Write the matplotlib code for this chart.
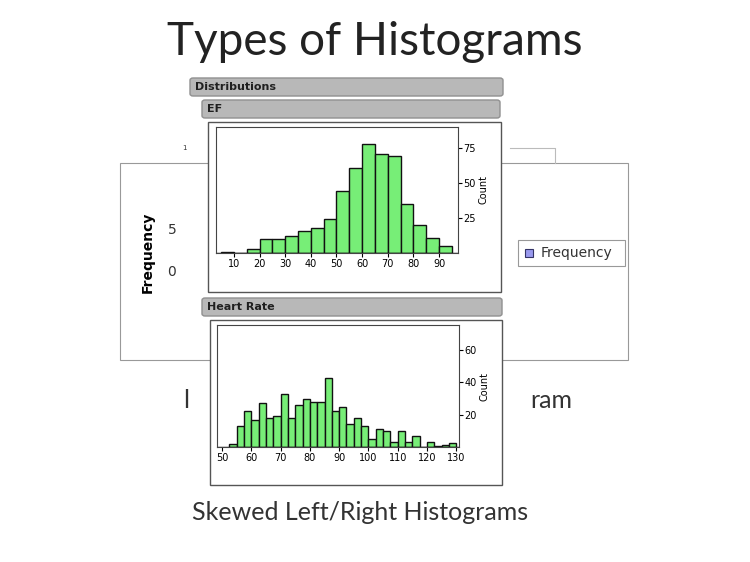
import matplotlib.pyplot as plt
from matplotlib.patches import Rectangle, FancyBboxPatch

W, H = 750, 562

# EF histogram (bin width 5)
ef_edges = [5, 10, 15, 20, 25, 30, 35, 40, 45, 50, 55, 60, 65, 70, 75, 80, 85, 90]
ef_counts = [1, 0, 3, 10, 10, 12, 16, 18, 24, 44, 61, 78, 71, 69, 35, 20, 11, 5]

# Heart rate histogram (bin width 2.5)
hr_edges = [52.5, 55, 57.5, 60, 62.5, 65, 67.5, 70, 72.5, 75, 77.5, 80, 82.5, 85, 87.5,
            90, 92.5, 95, 97.5, 100, 102.5, 105, 107.5, 110, 112.5, 115, 117.5, 120,
            122.5, 125, 127.5]
hr_counts = [2, 13, 22, 17, 27, 18, 19, 33, 18, 26, 30, 28, 28, 43, 22, 25, 14, 18, 13,
             5, 11, 10, 3, 10, 3, 7, 0, 3, 0.5, 1.5, 2.5]

fig = plt.figure(figsize=(W / 100, H / 100), dpi=100)
fig.patch.set_facecolor('white')


def px(x, y):
    return x / W, 1 - y / H


def add_ax(x0, y0, x1, y1):
    ax = fig.add_axes([x0 / W, 1 - y1 / H, (x1 - x0) / W, (y1 - y0) / H])
    ax.set_zorder(5)
    return ax


def rect(x0, y0, x1, y1, **kw):
    fig.patches.append(Rectangle((x0 / W, 1 - y1 / H), (x1 - x0) / W, (y1 - y0) / H,
                                 transform=fig.transFigure, **kw))


def header(x0, y0, x1, y1, label):
    fig.patches.append(FancyBboxPatch((x0 / W, 1 - y1 / H), (x1 - x0) / W, (y1 - y0) / H,
                                      boxstyle="round,pad=0,rounding_size=0.004",
                                      transform=fig.transFigure, facecolor='#b8b8b8',
                                      edgecolor='#909090', linewidth=1))
    fig.text((x0 + 5) / W, 1 - (y0 + y1) / 2 / H, label, fontsize=8, fontweight='bold',
             va='center', ha='left', color='#202020')


# title and slide text
fig.text(*px(375, 42), "Types of Histograms", fontsize=33, ha='center', va='center',
         family='Lato', color='#222222')
fig.text(*px(360, 513), "Skewed Left/Right Histograms", fontsize=18, ha='center',
         va='center', family='Lato', color='#333333')
fig.text(*px(186, 400), "l", fontsize=18, ha='center', va='center', family='Lato', color='#333333')
fig.text(*px(530, 400), "ram", fontsize=18, ha='left', va='center', family='Lato', color='#333333')

# background chart remnants
rect(120, 163, 628, 360, facecolor='none', edgecolor='#999999', linewidth=0.8)
fig.lines.append(plt.Line2D([510 / W, 555 / W, 555 / W], [1 - 148 / H, 1 - 148 / H, 1 - 163 / H],
                            transform=fig.transFigure, color='#bbbbbb', linewidth=0.8))
fig.text(*px(148, 252), "Frequency", rotation=90, fontsize=10, fontweight='bold',
         ha='center', va='center')
fig.text(*px(172, 230), "5", fontsize=10, ha='center', va='center', color='#333333')
fig.text(*px(172, 272), "0", fontsize=10, ha='center', va='center', color='#333333')
fig.text(*px(184, 148), "1", fontsize=5, ha='center', va='center', color='#333333')
rect(518, 240, 625, 266, facecolor='white', edgecolor='#999999', linewidth=0.8)
rect(525, 249, 533, 257, facecolor='#9999ee', edgecolor='#333366', linewidth=0.8)
fig.text(*px(541, 253), "Frequency", fontsize=10, ha='left', va='center', color='#333333')

# JMP-like panels
header(190, 78, 503, 96, "Distributions")
header(202, 100, 500, 118, "EF")
rect(208, 122, 501, 292, facecolor='white', edgecolor='#555555', linewidth=1)
header(202, 298, 502, 316, "Heart Rate")
rect(210, 320, 502, 485, facecolor='white', edgecolor='#555555', linewidth=1)


def hist(ax, edges, counts, width, xlim, ylim, xticks, yticks):
    ax.bar(edges, counts, width=width, align='edge', color='#77ee77', edgecolor='#111111',
           linewidth=1)
    ax.set_xlim(*xlim)
    ax.set_ylim(*ylim)
    ax.set_xticks(xticks)
    ax.set_yticks(yticks)
    ax.yaxis.tick_right()
    ax.yaxis.set_label_position('right')
    ax.set_ylabel("Count", fontsize=7, labelpad=2)
    ax.tick_params(labelsize=7, length=3, pad=1)
    ax.axhline(0, color='#111111', linewidth=1)
    for s in ax.spines.values():
        s.set_color('#444444')


ax1 = add_ax(216, 127, 458, 253)
hist(ax1, ef_edges, ef_counts, 5, (3, 97.4), (0, 90), range(10, 100, 10), [25, 50, 75])
ax2 = add_ax(217, 325, 459, 447)
hist(ax2, hr_edges, hr_counts, 2.5, (48.3, 130.9), (0, 75.6), range(50, 140, 10), [20, 40, 60])

fig.savefig("out.png", dpi=100)
